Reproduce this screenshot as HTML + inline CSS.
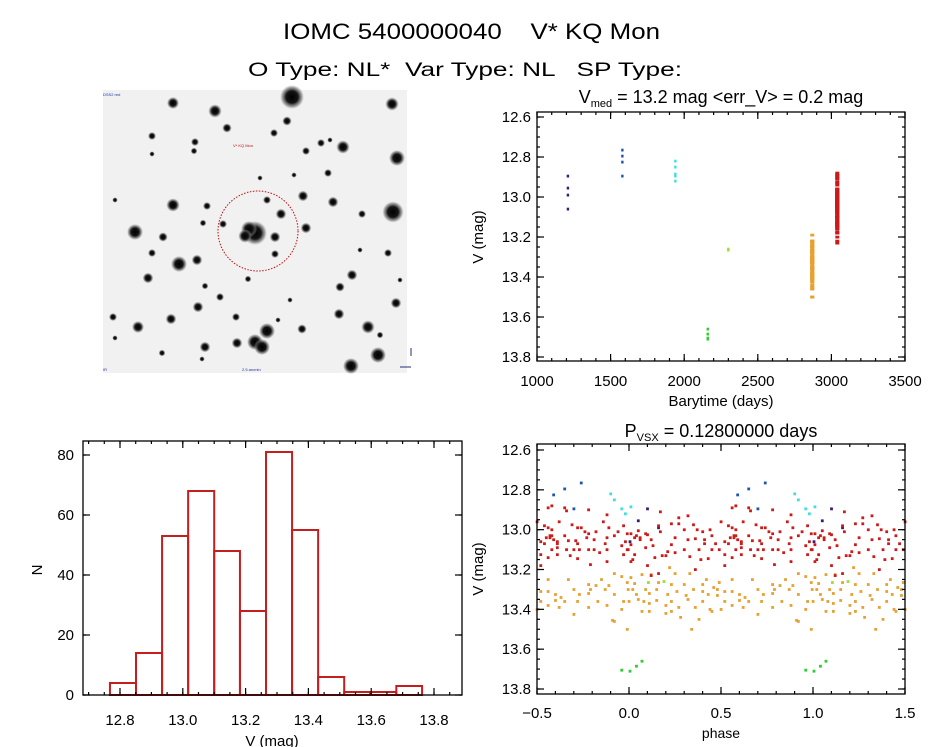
<!DOCTYPE html>
<html><head><meta charset="utf-8">
<style>
html,body{margin:0;padding:0;background:#fff;}
svg{display:block;font-family:"Liberation Sans","DejaVu Sans",sans-serif;}
</style></head>
<body>
<svg id="fig" width="944" height="747" viewBox="0 0 944 747" xmlns="http://www.w3.org/2000/svg">
<defs>
<radialGradient id="star" cx="50%" cy="50%" r="50%">
<stop offset="0" stop-color="#000"/><stop offset="0.5" stop-color="#151515"/><stop offset="0.8" stop-color="#666" stop-opacity="0.6"/><stop offset="1" stop-color="#aaa" stop-opacity="0"/>
</radialGradient>
</defs>
<rect width="944" height="747" fill="#fff"/>
<text x="283" y="39" textLength="377" lengthAdjust="spacingAndGlyphs" font-size="22" fill="#000" xml:space="preserve">IOMC 5400000040    V* KQ Mon</text>
<text x="248" y="76" textLength="434" lengthAdjust="spacingAndGlyphs" font-size="19" fill="#000" xml:space="preserve">O Type: NL*  Var Type: NL   SP Type:</text>
<g id="img"></g>
<g id="lc"></g>
<g id="hist"></g>
<g id="ph"></g>
</svg>
<script>
// ---------- data ----------
const groupNames = ["purple","blue","cyan","green","yellowgreen","orange","red"];
const groupColors = ["#3a1a7a","#1f55b0","#40dede","#2ecc2e","#a6dc2a","#e8a030","#cc1a1a"];
const groupTimes = [1210,1580,1940,2160,2300,2870,3040];

const purplePhase=[0.10,0.05,0.16,0.005];
const purpleMag=[12.895,12.955,12.99,13.06];
const bluePhase=[0.59,0.65,0.74,0.70];
const blueMag=[12.825,12.795,12.765,12.895];
const cyanPhase=[0.90,0.92,0.96,0.98,0.01];
const cyanMag=[12.82,12.85,12.895,12.92,12.885];
const greenPhase=[0.96,0.005,0.04,0.07];
const greenMag=[13.705,13.71,13.685,13.66];
const ygPhase=[0.105,0.19];
const ygMag=[13.265,13.26];
const redPhase=[0.17,0.27,0.32,0.56,0.58,0.65,0.66,0.78,0.88,0.01,0.05,0.09,0.10,0.16,0.17,0.23,0.27,0.30,0.35,0.37,0.40,0.44,0.50,0.54,0.56,0.58,0.62,0.65,0.69,0.72,0.74,0.76,0.78,0.82,0.86,0.89,0.94,0.97,0.99,
0.06,0.12,0.25,0.32,0.36,0.41,0.45,0.52,0.55,0.57,0.61,0.67,0.71,0.77,0.81,0.88,0.92,0.98,0.01,0.13,0.23,0.41,0.47,0.54,0.61,0.72,0.87,0.96,
0.99,0.09,0.21,0.30,0.38,0.45,0.49,0.58,0.61,0.66,0.70,0.73,0.78,0.81,0.88,0.995,0.03,0.18,0.25,0.33,0.52,0.61,0.68,0.84,0.97,0.01,0.14,0.20,0.39,0.43,0.56,0.72,0.88,0.02,0.10,0.36,0.52,0.79,0.12,0.16,0.03,0.04,0.06,0.57,0.58,0.59];
const redMag=[12.91,12.94,12.93,12.89,12.88,12.89,12.905,12.90,12.925,13.02,13.005,13.02,13.025,12.98,13.01,12.97,12.97,13.00,12.975,13.00,13.01,13.00,12.96,12.98,12.99,13.00,12.96,13.03,12.975,12.99,12.99,13.01,13.02,13.01,12.96,12.99,13.01,12.98,13.02,
13.04,13.05,13.04,13.05,13.045,13.05,13.03,13.06,13.04,13.03,13.06,13.055,13.055,13.04,13.05,13.04,13.03,13.06,13.075,13.08,13.075,13.07,13.07,13.07,13.07,13.07,13.07,13.08,
13.10,13.09,13.11,13.10,13.10,13.10,13.10,13.10,13.09,13.10,13.10,13.10,13.10,13.10,13.10,13.10,13.125,13.13,13.115,13.135,13.125,13.125,13.13,13.115,13.125,13.16,13.14,13.13,13.15,13.145,13.14,13.145,13.16,13.15,13.18,13.20,13.18,13.175,13.23,13.22,13.04,13.03,13.05,13.04,13.03,13.05];
const orangePhase=[0.22,0.07,0.12,0.25,0.33,0.92,0.01,0.42,0.56,0.67,0.85,0.96,0.03,0.16,0.23,0.30,0.40,0.49,0.78,0.89,0.99,0.995,0.09,0.15,0.26,0.35,0.40,0.48,0.52,0.56,0.70,0.79,0.87,0.02,
0.04,0.11,0.21,0.31,0.43,0.48,0.60,0.73,0.78,0.92,0.00,0.08,0.15,0.23,0.32,0.40,0.52,0.60,0.65,0.72,0.83,0.97,0.11,0.20,0.36,0.44,0.50,0.56,0.62,0.78,0.88,0.07,0.11,0.20,0.23,0.45,0.70,0.96,0.28,0.38,0.91,0.99,0.34,0.92,0.63,0.46,0.05,0.27,0.82];
const orangeMag=[13.19,13.225,13.225,13.22,13.22,13.22,13.24,13.25,13.25,13.25,13.25,13.235,13.27,13.265,13.275,13.275,13.275,13.265,13.275,13.28,13.265,13.30,13.30,13.30,13.31,13.30,13.31,13.30,13.31,13.31,13.30,13.30,13.30,13.30,
13.325,13.32,13.325,13.33,13.325,13.33,13.325,13.325,13.32,13.325,13.36,13.36,13.355,13.36,13.35,13.36,13.36,13.355,13.36,13.36,13.36,13.36,13.37,13.38,13.39,13.40,13.40,13.38,13.39,13.39,13.38,13.41,13.41,13.42,13.41,13.41,13.425,13.40,13.44,13.45,13.455,13.50,13.50,13.46,13.34,13.29,13.35,13.39,13.28];

const histEdges=[12.768,12.851,12.934,13.017,13.100,13.182,13.265,13.348,13.431,13.514,13.597,13.680,13.762];
const histCounts=[4,14,53,68,48,28,81,55,6,1,1,3];

const lcXTicks=[1000,1500,2000,2500,3000,3500];
const magTicks=[12.6,12.8,13.0,13.2,13.4,13.6,13.8];
const histXTicks=[12.8,13.0,13.2,13.4,13.6,13.8];
const histYTicks=[0,20,40,60,80];
const phaseTicks=[-0.5,0.0,0.5,1.0,1.5];

// sky image stars [x,y,r]
const stars=[[292,97,9],[173,103,4.5],[215,111,5],[392,104,5],[287,121,3.5],[227,128,3.5],[152,136,3],[274,133,3],[195,142,3],[343,147,5],[397,158,6],[306,151,3],[321,143,3],[194,151,2.5],[152,154,2],[328,173,3],[260,178,2],[303,196,4],[173,205,5],[333,202,4],[267,200,3],[207,206,3],[393,212,8],[281,214,4],[362,214,3],[135,232,6],[255,233,9],[275,237,4],[223,224,3],[203,223,2.5],[306,228,4],[163,237,3.5],[275,254,3],[152,253,3],[388,253,3],[179,264,6],[197,260,4],[352,275,4],[148,278,4],[340,287,3.5],[205,286,2.5],[248,279,2.5],[220,297,3],[396,303,4],[198,307,4],[339,314,4],[171,319,4],[236,317,3],[267,331,6],[138,327,4.5],[368,327,5],[302,329,3.5],[255,342,6],[262,347,6],[237,343,4],[205,347,4],[378,355,6],[351,366,6],[113,317,3],[115,338,2],[162,353,2.5],[202,359,2],[380,335,2.5],[278,320,2],[249,229,6],[245,236,5],[294,175,2],[330,140,2],[115,200,2],[400,280,2],[290,300,2],[360,250,2]];

// ---------- helpers ----------
const NS="http://www.w3.org/2000/svg";
function mk(parent,tag,attrs){const e=document.createElementNS(NS,tag);for(const k in attrs)e.setAttribute(k,attrs[k]);parent.appendChild(e);return e;}
function lin(d0,d1,r0,r1){return v=>r0+(v-d0)*(r1-r0)/(d1-d0);}

function drawFrame(g,L,T,R,B,xs,ys,xMaj,xMin,yMaj,yMin,xd,yd){
  const fr=mk(g,'rect',{x:L,y:T,width:R-L,height:B-T,fill:'none',stroke:'#000','stroke-width':1.3});
  
  
  const tk=(x1,y1,x2,y2)=>mk(g,'line',{x1,y1,x2,y2,stroke:'#000','stroke-width':1.2});
  for(let v=xMin[0];v<=xd[1]+1e-9;v+=xMin[1]){const x=xs(v);if(x<L-0.5||x>R+0.5)continue;tk(x,B,x,B-3);tk(x,T,x,T+3);}
  for(const v of xMaj){const x=xs(v);tk(x,B,x,B-7);tk(x,T,x,T+7);}
  for(let v=yMin[0];v<=yd[1]+1e-9;v+=yMin[1]){const y=ys(v);if(y<T-0.5||y>B+0.5)continue;tk(L,y,L+3,y);tk(R,y,R-3,y);}
  for(const v of yMaj){const y=ys(v);tk(L,y,L+7,y);tk(R,y,R-7,y);}
}
function label(g,x,y,txt,opts,name){
  const t=mk(g,'text',Object.assign({x,y,'font-size':15,fill:'#000'},opts||{}));
  t.textContent=txt;
  
  
  return t;
}

// ---------- sky image ----------
(function(){
  const g=document.getElementById('img');
  const bg=mk(g,'rect',{x:103,y:90,width:304,height:283,fill:'#f1f1f1'});
  
  
  for(const s of stars){
    const c=mk(g,'circle',{cx:s[0],cy:s[1],r:s[2]*1.35,fill:'url(#star)'});
    
    
  }
  const circ=mk(g,'circle',{cx:258,cy:231,r:40,fill:'none',stroke:'#c01010','stroke-width':1,'stroke-dasharray':'1.5 1.5'});
  
  
  const small=[[103,96,'DSS2 red','#2030a0'],[233,147,'V* KQ Mon','#c01010'],[242,371,'2.5 arcmin','#2030a0'],[103,371,'IR','#2030a0']];
  for(const s of small){const t=mk(g,'text',{x:s[0],y:s[1],'font-size':4,fill:s[3]});t.textContent=s[2];
    
    }
  mk(g,'line',{x1:411,y1:348,x2:411,y2:356,stroke:'#203080','stroke-width':1});
  mk(g,'line',{x1:400,y1:367,x2:411,y2:367,stroke:'#203080','stroke-width':1});
})();

// ---------- light curve ----------
const groupPhase=[purplePhase,bluePhase,cyanPhase,greenPhase,ygPhase,orangePhase,redPhase];
const groupMag=[purpleMag,blueMag,cyanMag,greenMag,ygMag,orangeMag,redMag];
(function(){
  const g=document.getElementById('lc');
  const L=537,R=905,T=112,B=361;
  const xs=lin(1000,3500,L,R), ys=lin(12.6,13.8,117,357);
  for(let gi=0;gi<groupNames.length;gi++){
    const w=gi>=5?4:2.4;
    for(let i=0;i<groupMag[gi].length;i++){
      const p=mk(g,'rect',{x:xs(groupTimes[gi])-w/2,y:ys(groupMag[gi][i])-1.3,width:w,height:2.8,fill:groupColors[gi]});
      
      
    }
  }
  drawFrame(g,L,T,R,B,xs,ys,lcXTicks,[1000,100],magTicks,[12.6,0.05],[1000,3500],[12.6,13.8]);
  for(const v of lcXTicks) label(g,xs(v),386,String(v),{'text-anchor':'middle'},'x-tick-label');
  for(const v of magTicks) label(g,531,ys(v)+5,v.toFixed(1),{'text-anchor':'end'},'y-tick-label');
  label(g,721,406,'Barytime (days)',{'text-anchor':'middle'},'x-axis-title');
  label(g,483,237,'V (mag)',{'text-anchor':'middle',transform:'rotate(-90 483 237)'},'y-axis-title');
  const t=label(g,721,103,'',{'text-anchor':'middle','font-size':18},'lc-title');
  t.innerHTML='V<tspan font-size="11" dy="4">med</tspan><tspan dy="-4"> = 13.2 mag &lt;err_V&gt; = 0.2 mag</tspan>';
})();

// ---------- histogram ----------
(function(){
  const g=document.getElementById('hist');
  const L=83,R=462,T=441,B=695;
  const xs=lin(12.8,13.8,120,434), ys=lin(0,80,695,455);
  for(let i=0;i<histCounts.length;i++){
    const x0=xs(histEdges[i]),x1=xs(histEdges[i+1]),y=ys(histCounts[i]);
    const b=mk(g,'rect',{x:x0,y:y,width:x1-x0,height:B-y,fill:'none',stroke:'#c41e1e','stroke-width':2});
    
    
  }
  drawFrame(g,L,T,R,B,xs,ys,histXTicks,[12.7,0.05],histYTicks,[0,20],[12.68,13.89],[0,85]);
  for(const v of histXTicks) label(g,xs(v),725,v.toFixed(1),{'text-anchor':'middle'},'x-tick-label');
  for(const v of histYTicks) label(g,74,ys(v)+5,String(v),{'text-anchor':'end'},'y-tick-label');
  label(g,272,746,'V (mag)',{'text-anchor':'middle'},'x-axis-title');
  label(g,42,570,'N',{'text-anchor':'middle',transform:'rotate(-90 42 570)'},'y-axis-title');
})();

// ---------- phase plot ----------
(function(){
  const g=document.getElementById('ph');
  const L=537,R=905,T=444,B=694;
  const xs=lin(-0.5,1.5,L,R), ys=lin(12.6,13.8,450,689);
  for(let gi=0;gi<groupNames.length;gi++){
    for(let i=0;i<groupMag[gi].length;i++){
      for(const off of [-1,0,1]){
        const ph=groupPhase[gi][i]+off;
        if(ph<-0.5||ph>1.5) continue;
        const p=mk(g,'rect',{x:xs(ph)-1.3,y:ys(groupMag[gi][i])-1.3,width:2.8,height:2.8,fill:groupColors[gi]});
        
        
      }
    }
  }
  drawFrame(g,L,T,R,B,xs,ys,phaseTicks,[-0.5,0.1],magTicks,[12.6,0.05],[-0.5,1.5],[12.6,13.8]);
  for(const v of phaseTicks) label(g,xs(v),718,(v<0?'\u2212':'')+Math.abs(v).toFixed(1),{'text-anchor':'middle'},'x-tick-label');
  for(const v of magTicks) label(g,531,ys(v)+5,v.toFixed(1),{'text-anchor':'end'},'y-tick-label');
  label(g,721,738,'phase',{'text-anchor':'middle','font-size':14},'x-axis-title');
  label(g,483,569,'V (mag)',{'text-anchor':'middle',transform:'rotate(-90 483 569)'},'y-axis-title');
  const t=label(g,721,437,'',{'text-anchor':'middle','font-size':18},'phase-title');
  t.innerHTML='P<tspan font-size="11" dy="4">VSX</tspan><tspan dy="-4"> = 0.12800000 days</tspan>';
})();
</script>
</body></html>
